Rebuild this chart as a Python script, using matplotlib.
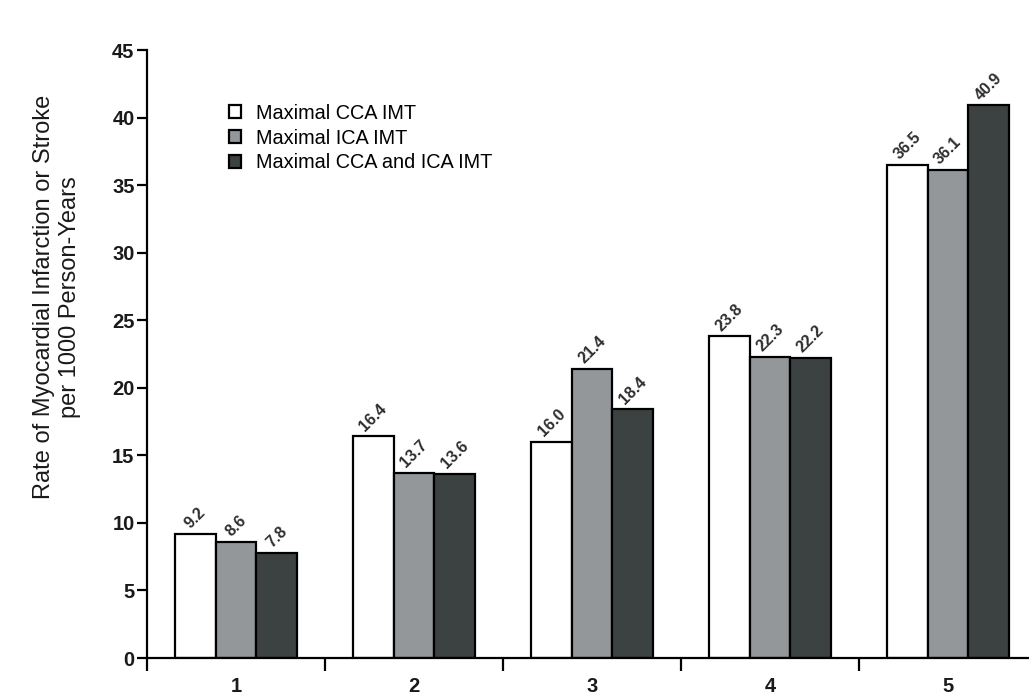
import matplotlib
matplotlib.use("Agg")
import matplotlib.pyplot as plt
import numpy as np
from matplotlib.ticker import FixedLocator

plt.rcParams['font.family'] = ['Liberation Sans', 'DejaVu Sans']

# Quintiles of intima-media thickness
categories = ["1", "2", "3", "4", "5"]
series_names = ["Maximal CCA IMT", "Maximal ICA IMT", "Maximal CCA and ICA IMT"]
cca = [9.2, 16.4, 16.0, 23.8, 36.5]
ica = [8.6, 13.7, 21.4, 22.3, 36.1]
cca_ica = [7.8, 13.6, 18.4, 22.2, 40.9]
y_ticks = [0, 5, 10, 15, 20, 25, 30, 35, 40, 45]

colors = ["#ffffff", "#93979a", "#3c4142"]
series = [cca, ica, cca_ica]

fig = plt.figure(figsize=(10.29, 6.95), dpi=100)
ax = fig.add_axes([0.1429, 0.0532, 0.8571, 0.8748])

x = np.arange(1, len(categories) + 1)
width = 0.228
for i, (vals, col, name) in enumerate(zip(series, colors, series_names)):
    pos = x + (i - 1) * width
    ax.bar(pos, vals, width=width, color=col, edgecolor="black",
           linewidth=1.6, label=name, zorder=2)
    for xi, v in zip(pos, vals):
        ax.annotate(f"{v:.1f}", (xi, v), xytext=(0, 2), textcoords="offset points",
                    rotation=45, ha="center", va="bottom", fontsize=11.5,
                    fontweight="bold", color="#2e2e2e")

ax.set_xlim(0.5, 5.455)
ax.set_ylim(0, 45)
ax.set_yticks(y_ticks)
ax.tick_params(axis="y", direction="out", length=7, width=1.6, labelsize=14.5, pad=2)

ax.set_xticks(x)
ax.set_xticklabels(categories)
ax.xaxis.set_minor_locator(FixedLocator(np.arange(0.5, 6.0, 1.0)))
ax.tick_params(axis="x", which="major", length=0, labelsize=14.5, pad=14)
ax.tick_params(axis="x", which="minor", direction="out", length=9, width=1.6)
for lbl in ax.get_xticklabels() + ax.get_yticklabels():
    lbl.set_fontweight("bold")
    lbl.set_color("#1a1a1a")

for side in ("top", "right"):
    ax.spines[side].set_visible(False)
for side in ("left", "bottom"):
    ax.spines[side].set_linewidth(1.6)

fig.text(57 / 1029, 0.573,
         "Rate of Myocardial Infarction or Stroke\nper 1000 Person-Years",
         rotation=90, ha="center", va="center", fontsize=17, linespacing=1.25,
         color="#1a1a1a")

leg = ax.legend(loc="upper left", bbox_to_anchor=(0.0925, 0.912), frameon=False,
                prop={'size': 14.3},
                handlelength=0.62, handleheight=0.62,
                handletextpad=0.75, labelspacing=0.3, borderaxespad=0,
                borderpad=0)

fig.savefig("out.png", dpi=100)
